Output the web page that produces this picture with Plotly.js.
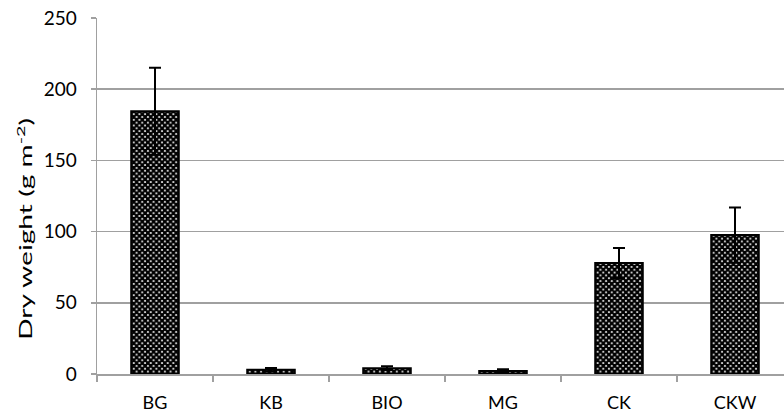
<!DOCTYPE html>
<html>
<head>
<meta charset="utf-8">
<script src="https://cdn.plot.ly/plotly-3.0.1.min.js"></script>
<style>
html, body { margin: 0; padding: 0; overflow: hidden; background: #fff; }
#chart { width: 800px; height: 414px; }
</style>
</head>
<body>
<div id="chart"></div>
<script>
// Data
const categories = ["BG", "KB", "BIO", "MG", "CK", "CKW"];
const dryWeight = [184.5, 3.0, 4.1, 2.1, 78.0, 97.6];
const stdError = [30.5, 1.2, 1.3, 1.2, 10.5, 19.4];
const yTickValues = [0, 50, 100, 150, 200, 250];
const yAxisTitle = "Dry weight (g m<sup>-2</sup>)";

const FONT = "Lato, 'Open Sans', sans-serif";
const GRID = "#a0a0a0";

const trace = {
  type: "bar",
  x: categories,
  y: dryWeight,
  width: 0.41,
  marker: {
    color: "white",
    line: { color: "black", width: 2 },
    pattern: { shape: "x", fgcolor: "black", bgcolor: "white", size: 4, solidity: 0.8, fillmode: "replace" }
  },
  error_y: {
    type: "data",
    array: stdError,
    visible: true,
    color: "black",
    thickness: 2,
    width: 6
  },
  hoverinfo: "skip"
};

const layout = {
  width: 800,
  height: 414,
  margin: { l: 97, r: 7, t: 18, b: 40, pad: 0 },
  paper_bgcolor: "white",
  plot_bgcolor: "white",
  showlegend: false,
  font: { family: FONT, size: 18, color: "#000" },
  xaxis: {
    type: "category",
    tickson: "boundaries",
    ticks: "outside",
    ticklen: 6,
    tickwidth: 1.5,
    tickcolor: GRID,
    showline: true,
    linecolor: GRID,
    linewidth: 1.5,
    showgrid: false,
    zeroline: false,
    tickfont: { family: FONT, size: 18, color: "#000" },
    ticklabelstandoff: 12
  },
  yaxis: {
    range: [0, 250],
    tickvals: yTickValues,
    ticktext: yTickValues.map(String),
    ticks: "outside",
    ticklen: 5,
    tickwidth: 1.5,
    tickcolor: GRID,
    showline: true,
    linecolor: GRID,
    linewidth: 1.5,
    showgrid: true,
    gridcolor: GRID,
    gridwidth: 1.5,
    zeroline: false,
    tickfont: { family: FONT, size: 19, color: "#000" },
    ticklabelstandoff: 10
  },
  annotations: [{
    text: yAxisTitle,
    xref: "paper",
    yref: "y",
    x: -0.1034,
    y: 102,
    xanchor: "center",
    yanchor: "middle",
    textangle: -90,
    showarrow: false,
    font: { family: FONT, size: 17, color: "#000" }
  }]
};

Plotly.newPlot("chart", [trace], layout, { staticPlot: true, displayModeBar: false }).then(function (gd) {
  // stretch the axis title along its length to match the reference's wide lettering
  const t = gd.querySelector(".annotation-text");
  if (t) {
    t.setAttribute("textLength", "222");
    t.setAttribute("lengthAdjust", "spacingAndGlyphs");
  }
});
</script>
</body>
</html>
